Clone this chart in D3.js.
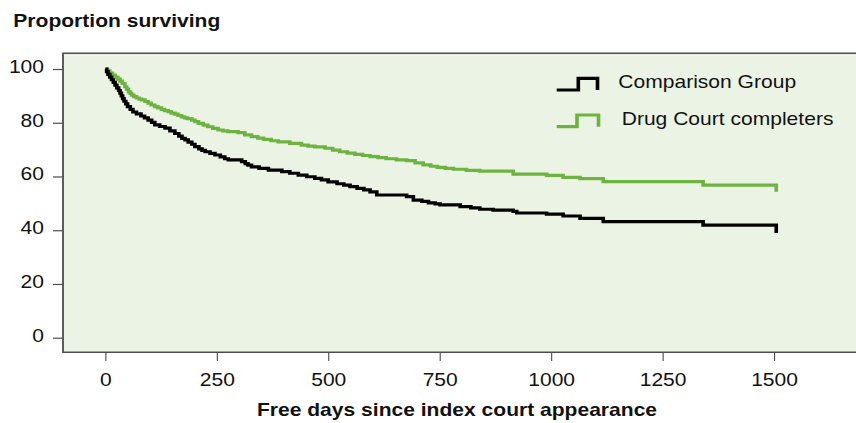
<!DOCTYPE html>
<html><head><meta charset="utf-8">
<script src="https://cdn.jsdelivr.net/npm/d3@7"></script>
<style>
body{margin:0;background:#fff;}
svg{display:block;}
text{font-family:"Liberation Sans",Arial,sans-serif;fill:#111;}
</style>
</head><body><svg id="chart"></svg>
<script>
// ---- data ----
const comparisonDays = [0,3,6,10,14,18,22,26,30,33,36,39,42,46,50,56,62,70,80,88,96,104,111,122,134,145,156,165,172,179,186,194,201,210,217,224,235,246,258,268,276,306,314,320,328,345,366,396,414,433,452,470,485,500,520,535,549,565,580,594,609,676,691,710,725,740,751,796,820,840,870,915,923,990,1027,1065,1117,1341,1505];
const comparisonSurv = [100,99,98,97,96,95,94,93,92,91,90,89,88,87,86,85,84,83.3,82.5,81.8,81,80.1,79.2,78.6,78,77,76,75,74.2,73.6,72.8,72,71.1,70.3,69.7,69.2,68.6,68,67.3,66.6,66.2,65.5,64.8,64.2,63.6,63,62.4,61.8,61.2,60.5,59.9,59.3,58.7,58,57.3,56.8,56.2,55.6,55,54.3,53.1,52.5,51.2,50.7,50.2,49.8,49.4,48.8,48.3,47.8,47.5,47.0,46.4,46.0,45.3,44.4,43.2,41.9,39];
const completersDays = [0,5,10,16,22,28,33,38,44,48,52,56,59,64,70,76,82,89,96,103,111,118,126,133,141,148,156,163,171,178,184,194,201,209,220,230,241,253,264,275,298,313,328,342,355,372,388,414,440,455,470,493,510,526,543,560,577,594,612,630,653,676,695,713,730,745,763,781,810,840,915,990,1027,1065,1117,1341,1505];
const completersSurv = [100,99.3,98.5,97.7,97,96.2,95.5,94.6,93.4,92.5,91.5,90.9,90.3,89.7,89.2,88.8,88.5,87.9,87.3,86.6,86,85.5,85,84.5,84.1,83.6,83.2,82.7,82.2,81.8,81.5,81,80.4,79.8,79.1,78.5,77.9,77.3,77,76.7,76.3,75.5,74.8,74.3,73.8,73.3,72.9,72.3,71.7,71.3,71,70.5,69.8,69.2,68.7,68.2,67.8,67.4,67,66.6,66.2,65.9,65.1,64.3,63.8,63.4,63,62.7,62.3,62,60.9,60.4,59.7,59.2,58.1,56.8,54.3];
const xTicks = [0,250,500,750,1000,1250,1500];
const yTicks = [0,20,40,60,80,100];
const seriesNames = ["Comparison Group","Drug Court completers"];
const seriesColors = ["#000000","#6db33f"];
const chartTitle = "Proportion surviving";
const xTitle = "Free days since index court appearance";

// ---- layout ----
const W = 856, H = 423, K = 1.132, VW = W / K;
const px = v => v / K;
const svg = d3.select("#chart")
  .attr("width", W).attr("height", H)
  .attr("viewBox", `0 0 ${VW} ${H}`)
  .attr("preserveAspectRatio", "none");

const plot = {left: px(63), right: px(880), top: 53.3, bottom: 352.3};
const x = d3.scaleLinear().domain([0, 1500]).range([px(105.3), px(774)]);
const y = d3.scaleLinear().domain([0, 100]).range([337.7, 69]);
const FS = 18.6;
const frameColor = "#4d4d4d";
const fmt = d3.format("d");

// plot background and frame
svg.append("rect")
  .attr("x", plot.left).attr("y", plot.top)
  .attr("width", plot.right - plot.left).attr("height", plot.bottom - plot.top)
  .attr("fill", "#ebf4e4");
svg.append("path")
  .attr("d", `M${plot.right},${plot.top}H${plot.left}V${plot.bottom}H${plot.right}`)
  .attr("fill", "none").attr("stroke", frameColor).attr("stroke-width", 1.6);

// axes
const yAxis = svg.append("g")
  .attr("transform", `translate(${plot.left},0)`)
  .call(d3.axisLeft(y).tickValues(yTicks).tickFormat(fmt).tickSize(px(10)).tickPadding(px(9)));
yAxis.select(".domain").remove();
yAxis.selectAll("line").attr("stroke", frameColor).attr("stroke-width", 1.2);
yAxis.selectAll("text").attr("font-size", FS).attr("dy", "0.18em")
  .attr("font-family", "'Liberation Sans', Arial, sans-serif").attr("fill", "#111");

const xAxis = svg.append("g")
  .attr("transform", `translate(0,${plot.bottom})`)
  .call(d3.axisBottom(x).tickValues(xTicks).tickFormat(fmt).tickSize(8.7).tickPadding(11.5));
xAxis.select(".domain").remove();
xAxis.selectAll("line").attr("stroke", frameColor).attr("stroke-width", 1);
xAxis.selectAll("text").attr("font-size", FS)
  .attr("font-family", "'Liberation Sans', Arial, sans-serif").attr("fill", "#111");

// curves
const line = d3.line().x(d => x(d[0])).y(d => y(d[1])).curve(d3.curveStepAfter);
const series = [
  {name: seriesNames[1], color: seriesColors[1], data: d3.zip(completersDays, completersSurv)},
  {name: seriesNames[0], color: seriesColors[0], data: d3.zip(comparisonDays, comparisonSurv)}
];
svg.append("g").selectAll("path").data(series).join("path")
  .attr("d", d => line(d.data))
  .attr("fill", "none").attr("stroke", d => d.color)
  .attr("stroke-width", 3.2).attr("stroke-linejoin", "miter");

// legend
const legendRows = [
  {name: seriesNames[0], color: seriesColors[0], base: 90, top: 78.3, x0: 556.7, xs: 578.3, x1: 597.5, tx: 618.3},
  {name: seriesNames[1], color: seriesColors[1], base: 126.7, top: 115, x0: 556.7, xs: 577, x1: 598.5, tx: 621.7}
];
const lg = svg.append("g");
lg.selectAll("path").data(legendRows).join("path")
  .attr("d", d => `M${px(d.x0)},${d.base}H${px(d.xs)}V${d.top}H${px(d.x1)}V${d.base}`)
  .attr("fill", "none").attr("stroke", d => d.color).attr("stroke-width", 3.2);
lg.selectAll("text").data(legendRows).join("text")
  .attr("x", d => px(d.tx)).attr("y", d => d.base - 1.5)
  .attr("font-size", FS).text(d => d.name);

// titles
svg.append("text").attr("x", px(13.3)).attr("y", 26.7)
  .attr("font-size", FS).attr("font-weight", "bold").text(chartTitle);
svg.append("text").attr("x", px(457)).attr("y", 416)
  .attr("text-anchor", "middle").attr("font-size", FS).attr("font-weight", "bold").text(xTitle);
</script>
</body></html>
